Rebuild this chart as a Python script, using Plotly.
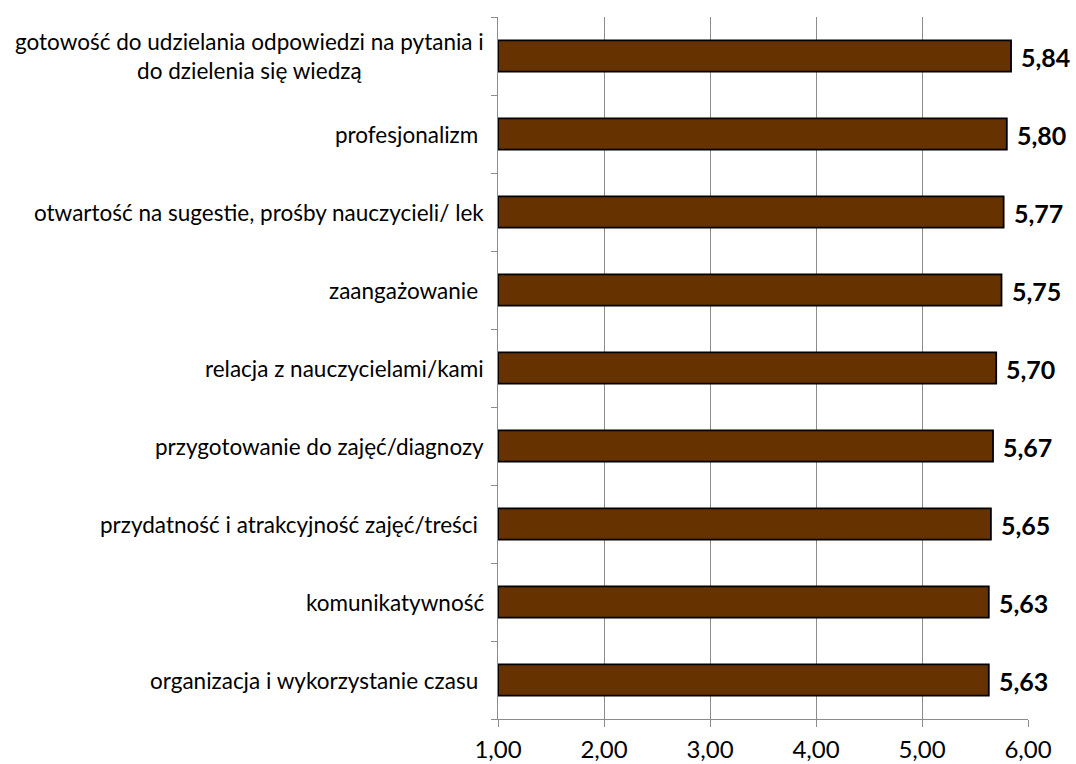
import plotly.graph_objects as go

categories = [
    "gotowość do udzielania odpowiedzi na pytania i<br>do dzielenia się wiedzą",
    "profesjonalizm\u00a0",
    "otwartość na sugestie, prośby nauczycieli/ lek",
    "zaangażowanie\u00a0",
    "relacja z nauczycielami/kami",
    "przygotowanie do zajęć/diagnozy",
    "przydatność i atrakcyjność zajęć/treści\u00a0",
    "komunikatywność",
    "organizacja i wykorzystanie czasu\u00a0",
]
values = [5.84, 5.80, 5.77, 5.75, 5.70, 5.67, 5.65, 5.63, 5.63]
value_labels = ["5,84", "5,80", "5,77", "5,75", "5,70", "5,67", "5,65", "5,63", "5,63"]
x_ticks = [1, 2, 3, 4, 5, 6]
x_tick_labels = ["1,00", "2,00", "3,00", "4,00", "5,00", "6,00"]

FONT = "Lato"
GRID = "#8c8c8c"
BAR = "#663300"

# category positions: first item at the top
ypos = list(range(len(categories)))[::-1]

fig = go.Figure()
fig.add_trace(go.Bar(
    x=[v - 1 for v in values],
    base=1,
    y=ypos,
    orientation="h",
    marker=dict(color=BAR, line=dict(color="#000000", width=1.8)),
    width=0.40,
    hoverinfo="skip",
))

# value labels just right of each bar end
for v, lab, y in zip(values, value_labels, ypos):
    fig.add_annotation(
        x=v, y=y, xref="x", yref="y",
        text=f"<b>{lab}</b>", showarrow=False,
        xanchor="left", yanchor="middle", xshift=8, yshift=-1,
        font=dict(family=FONT, size=25, color="#000000"),
    )

# category labels, centred line by line and right-aligned against the axis
for cat, y in zip(categories, ypos):
    fig.add_annotation(
        x=0, xref="paper", y=y, yref="y",
        text=cat, showarrow=False,
        xanchor="right", yanchor="middle", align="center",
        xshift=-12,
        font=dict(family=FONT, size=22.5, color="#000000"),
    )

fig.update_layout(
    width=1076, height=764,
    margin=dict(l=498, r=48, t=17, b=45),
    paper_bgcolor="white", plot_bgcolor="white",
    showlegend=False,
    bargap=0.6,
)
fig.update_xaxes(
    range=[1, 6],
    tickvals=x_ticks, ticktext=x_tick_labels,
    showgrid=True, gridcolor=GRID, gridwidth=1.2,
    showline=True, linecolor=GRID, linewidth=1.2,
    ticks="outside", ticklen=7, tickcolor=GRID, tickwidth=1.2,
    ticklabelstandoff=2,
    automargin=False,
    tickfont=dict(family=FONT, size=24, color="#000000"),
    zeroline=False,
)
fig.update_yaxes(
    range=[-0.5, len(categories) - 0.5],
    tickvals=[i - 0.5 for i in range(len(categories) + 1)],
    ticktext=[""] * (len(categories) + 1),
    showgrid=False,
    showline=True, linecolor=GRID, linewidth=1.2,
    ticks="outside", ticklen=6, tickcolor=GRID, tickwidth=1.2,
    automargin=False,
    zeroline=False,
)

fig.write_html("out.html")
